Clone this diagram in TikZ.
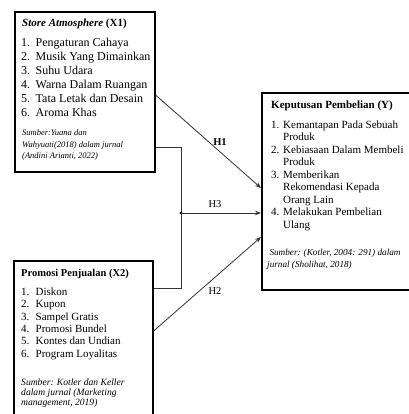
\documentclass[tikz,border=0pt]{standalone}
\usepackage{fontspec}
\setmainfont{Liberation Serif}
\usetikzlibrary{arrows.meta,calc}
\newcommand\lnumA[1]{\makebox[14.5pt][l]{#1}}
\newcommand\lnumB[1]{\makebox[12pt][l]{#1}}
\begin{document}
\begin{tikzpicture}[x=1pt,y=-1pt,
  box/.style={draw=black, line width=1.6pt, inner sep=0pt, anchor=north west},
  conn/.style={draw=black!80, line width=0.8pt},
  arr/.style={conn, -{Stealth[length=6pt,width=4.5pt]}},
  txt/.style={anchor=base west, inner sep=0pt},
  lab/.style={inner sep=0pt, font=\fontsize{10.5}{12}\selectfont}]
\useasboundingbox (0,0) rectangle (408,414);
\fill[white] (0,0) rectangle (408,414);

% boxes
\node[box, minimum width=140pt, minimum height=160pt] (x1) at (14,11) {};
\node[box, minimum width=139pt, minimum height=170pt] (x2) at (13,260) {};
\node[box, minimum width=160pt, minimum height=197pt] (y) at (261,92) {};

% X1 contents
\node[txt] (x1t) at (22,26.5) {\fontsize{11}{13}\selectfont\textbf{\textit{Store Atmosphere}} \textbf{(X1)}};
\node[txt] (x1l) at (21,46.6) {\fontsize{12}{14}\selectfont\begin{tabular}[t]{@{}l@{}}
\lnumA{1.}Pengaturan Cahaya\\
\lnumA{2.}Musik Yang Dimainkan\\
\lnumA{3.}Suhu Udara\\
\lnumA{4.}Warna Dalam Ruangan\\
\lnumA{5.}Tata Letak dan Desain\\
\lnumA{6.}Aroma Khas
\end{tabular}};
\node[txt] (x1s) at (22,135.5) {\fontsize{8.5}{11.5}\selectfont\itshape\begin{tabular}[t]{@{}l@{}}
Sumber:Yuana dan\\
Wahyuati(2018) dalam jurnal\\
(Andini Arianti, 2022)
\end{tabular}};

% X2 contents
\node[txt] (x2t) at (21,276.3) {\fontsize{10.5}{12}\selectfont\textbf{Promosi Penjualan (X2)}};
\node[txt] (x2l) at (21,295.3) {\fontsize{11}{12.4}\selectfont\begin{tabular}[t]{@{}l@{}}
\lnumA{1.}Diskon\\
\lnumA{2.}Kupon\\
\lnumA{3.}Sampel Gratis\\
\lnumA{4.}Promosi Bundel\\
\lnumA{5.}Kontes dan Undian\\
\lnumA{6.}Program Loyalitas
\end{tabular}};
\node[txt] (x2s) at (21,385.5) {\fontsize{9.6}{10}\selectfont\itshape\begin{tabular}[t]{@{}l@{}}
Sumber: Kotler dan Keller\\
dalam jurnal (Marketing\\
management, 2019)
\end{tabular}};

% Y contents
\node[txt] (yt) at (271,108.3) {\fontsize{11}{13}\selectfont\textbf{Keputusan Pembelian (Y)}};
\node[txt] (yl) at (271,128.3) {\fontsize{11}{12.5}\selectfont\begin{tabular}[t]{@{}l@{}}
\lnumB{1.}Kemantapan Pada Sebuah\\
\lnumB{}Produk\\
\lnumB{2.}Kebiasaan Dalam Membeli\\
\lnumB{}Produk\\
\lnumB{3.}Memberikan\\
\lnumB{}Rekomendasi Kepada\\
\lnumB{}Orang Lain\\
\lnumB{4.}Melakukan Pembelian\\
\lnumB{}Ulang
\end{tabular}};
\node[txt] (ys) at (267,255.8) {\fontsize{9.2}{12}\selectfont\itshape\begin{tabular}[t]{@{}l@{}}
\ Sumber: (Kotler, 2004: 291) dalam\\
jurnal (Sholihat, 2018)
\end{tabular}};

% connectors
\coordinate (ja) at (181,147);
\coordinate (j) at (181,213);
\coordinate (jb) at (181,288);
\draw[conn] (x1.east |- ja) -- (ja) -- (jb) -- (x2.east |- jb);
\fill[black] (j) circle (1.7pt);
\draw[arr] (x1.east |- 0,95) -- (y.west |- 0,188);
\draw[arr] (j) -- (y.west |- j);
\draw[arr] (x2.east |- 0,331) -- (y.west |- 0,237);

% labels
\node[lab, font=\fontsize{10.5}{12}\selectfont\bfseries] (h1) at (220,142) {H1};
\node[lab] (h3) at (215,204) {H3};
\node[lab] (h2) at (215,291) {H2};
\end{tikzpicture}
\end{document}
